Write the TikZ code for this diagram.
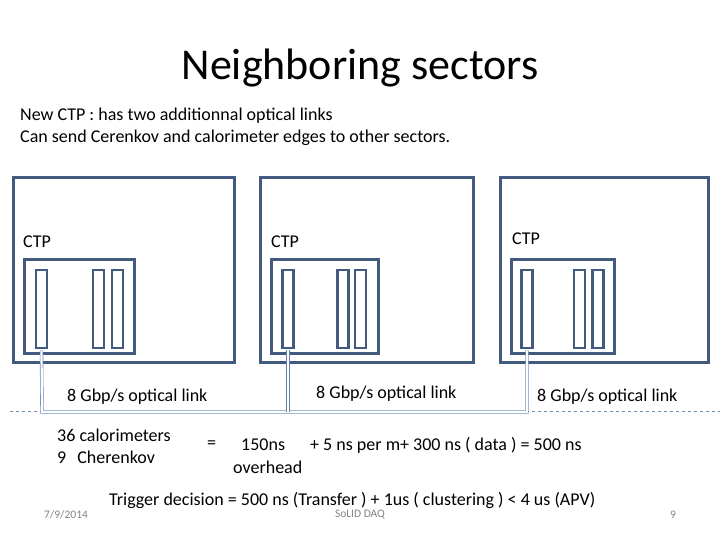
\documentclass[tikz,border=0pt]{standalone}
\usepackage{fontspec}
\setmainfont{Carlito}
\definecolor{boxc}{RGB}{65,90,125}
\definecolor{linkc}{RGB}{95,130,175}
\definecolor{dashc}{RGB}{110,140,180}
\definecolor{footc}{RGB}{130,130,130}
\tikzset{
  sector/.style={draw=boxc,line width=3pt,minimum width=#1,minimum height=184pt,inner sep=0pt},
  ctpbox/.style={draw=boxc,line width=3pt,minimum width=#1,minimum height=94pt,inner sep=0pt},
  slot/.style={draw=boxc,line width=2.6pt,minimum width=11pt,minimum height=78pt,inner sep=0pt},
  txt/.style={font=\fontsize{18}{21}\selectfont,inner sep=0pt,anchor=west},
  foot/.style={font=\fontsize{11.5}{13}\selectfont,text=footc,inner sep=0pt},
  link/.style={draw=linkc,double=white,double distance=2.2pt,line width=0.6pt},
}
\begin{document}
\begin{tikzpicture}[x=1pt,y=-1pt]
\useasboundingbox (0,0) rectangle (720,540);
% title
\node[font=\fontsize{44}{48}\selectfont,inner sep=0pt] (title) at (360,68) {Neighboring sectors};
\node[txt] (l1) at (20,116) {New CTP : has two additionnal optical links};
\node[txt] (l2) at (20,138) {Can send Cerenkov and calorimeter edges to other sectors.};
% sectors
\node[sector=221pt] (s1) at (123.5,270) {};
\node[sector=213pt] (s2) at (366.5,270) {};
\node[sector=208pt] (s3) at (604,270) {};
\node[ctpbox=110pt] (c1) at (79,306) {};
\node[ctpbox=107pt] (c2) at (324.5,306) {};
\node[ctpbox=103pt] (c3) at (562.5,306) {};
\node[txt] (t1) at (23,242) {CTP};
\node[txt] (t2) at (271,242) {CTP};
\node[txt] (t3) at (512,239) {CTP};
% slots
\node[slot] (a1) at (41.5,309) {};
\node[slot] (a2) at (98.5,309) {};
\node[slot] (a3) at (117.5,309) {};
\node[slot] (b1) at (288,309) {};
\node[slot] (b2) at (343,309) {};
\node[slot] (b3) at (360.5,309) {};
\node[slot] (d1) at (527,309) {};
\node[slot] (d2) at (579.5,309) {};
\node[slot] (d3) at (598,309) {};
% dashed line
\coordinate (dl) at (10,411);
\coordinate (dr) at (720,411);
\draw[dashc,dashed,line width=0.8pt] (dl) -- (dr);
% links
\coordinate (j1) at (42,412);
\coordinate (j2) at (288,412);
\coordinate (j3) at (527,412);
\draw[link] ([yshift=-1pt]a1.south) -- (j1) -- (j2) -- (j3) -- ([yshift=-1pt]d1.south);
\draw[link] ([yshift=-1pt]b1.south) -- (j2);
% link labels
\node[txt] (o1) at (67,397) {8 Gbp/s optical link};
\node[txt] (o2) at (316,394) {8 Gbp/s optical link};
\node[txt] (o3) at (537,397) {8 Gbp/s optical link};
% calculation
\node[txt] (k1) at (57,435) {36 calorimeters};
\node[txt] (k2) at (57,457) {9\hspace{11pt}Cherenkov};
\node[txt] (eq) at (207,445) {=};
\node[txt] (k3) at (241,445) {150ns};
\node[txt] (k4) at (310,445) {+ 5 ns per m+ 300 ns ( data ) = 500 ns};
\node[txt] (k5) at (233,467) {overhead};
\node[txt] (tr) at (109,500) {Trigger decision = 500 ns (Transfer ) + 1us ( clustering ) < 4 us (APV)};
% footer
\node[foot] (date) at (66,515) {7/9/2014};
\node[foot] (mid) at (360,515) {SoLID DAQ};
\node[foot] (pg) at (673,515) {9};
\end{tikzpicture}
\end{document}
